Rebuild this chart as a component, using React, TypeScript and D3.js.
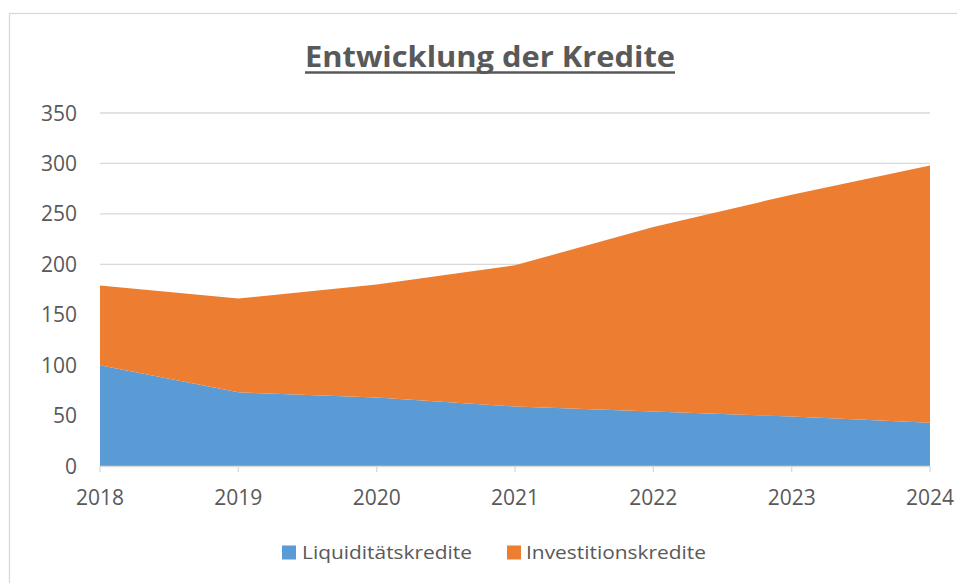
import React from "react";
import * as d3 from "d3";

const years = ["2018", "2019", "2020", "2021", "2022", "2023", "2024"];
const liquiditaet = [100, 73, 68, 59, 54, 49, 43];
const investition = [79, 93, 112, 140, 183, 220, 255];
const yTicks = [0, 50, 100, 150, 200, 250, 300, 350];
const seriesNames = ["Liquiditätskredite", "Investitionskredite"];
const seriesColors = ["#5B9BD5", "#ED7D31"];
const title = "Entwicklung der Kredite";

const W = 957;
const H = 583;
const FONT = "'Open Sans', 'Noto Sans', sans-serif";
const TEXT = "#595959";
const GRID = "#D9D9D9";

export default function App() {
  const x = d3.scalePoint<string>().domain(years).range([100, 930]);
  const y = d3.scaleLinear().domain([0, 350]).range([466, 113]);

  const rows = years.map((yr, i) => ({
    year: yr,
    [seriesNames[0]]: liquiditaet[i],
    [seriesNames[1]]: investition[i],
  }));
  const stack = d3.stack<any>().keys(seriesNames)(rows);
  const area = d3
    .area<any>()
    .x((d) => x(d.data.year) as number)
    .y0((d) => y(d[0]))
    .y1((d) => y(d[1]));

  const legendItems = [
    { name: seriesNames[0], color: seriesColors[0], sx: 282, tx: 302, tw: 170 },
    { name: seriesNames[1], color: seriesColors[1], sx: 507, tx: 526, tw: 180 },
  ];

  return (
    <svg
      width={W}
      height={H}
      style={{ position: "absolute", left: 0, top: 0, background: "#fff" }}
      fontFamily={FONT}
    >
      <rect x={9.5} y={13.5} width={W + 10} height={H + 10} fill="#fff" stroke={GRID} strokeWidth={1.3} />

      {/* title */}
      <text
        x={490}
        y={67}
        textAnchor="middle"
        fontSize={28}
        fontWeight="bold"
        fill={TEXT}
        textLength={370}
        lengthAdjust="spacingAndGlyphs"
      >
        {title}
      </text>
      <line x1={305} x2={675} y1={72.5} y2={72.5} stroke={TEXT} strokeWidth={2.5} />

      {/* gridlines */}
      {yTicks.map((t) => (
        <line key={t} x1={100} x2={930} y1={y(t)} y2={y(t)} stroke={GRID} strokeWidth={1.3} />
      ))}

      {/* areas */}
      {stack.map((s, i) => (
        <path key={s.key} d={area(s) as string} fill={seriesColors[i]} />
      ))}

      {/* x axis */}
      <line x1={100} x2={930} y1={466.5} y2={466.5} stroke={GRID} strokeWidth={1.3} />
      {years.map((yr) => (
        <line key={yr} x1={x(yr)} x2={x(yr)} y1={466} y2={472} stroke={GRID} strokeWidth={1.3} />
      ))}
      {years.map((yr) => (
        <text key={yr} x={x(yr)} y={505} textAnchor="middle" fontSize={21} fill={TEXT}>
          {yr}
        </text>
      ))}

      {/* y labels */}
      {yTicks.map((t) => (
        <text key={t} x={77} y={y(t) + 7.5} textAnchor="end" fontSize={21} fill={TEXT}>
          {t}
        </text>
      ))}

      {/* legend */}
      {legendItems.map((l) => (
        <g key={l.name}>
          <rect x={l.sx} y={545.5} width={14} height={14} fill={l.color} />
          <text
            x={l.tx}
            y={558.5}
            fontSize={19}
            fill={TEXT}
            textLength={l.tw}
            lengthAdjust="spacingAndGlyphs"
          >
            {l.name}
          </text>
        </g>
      ))}
    </svg>
  );
}
